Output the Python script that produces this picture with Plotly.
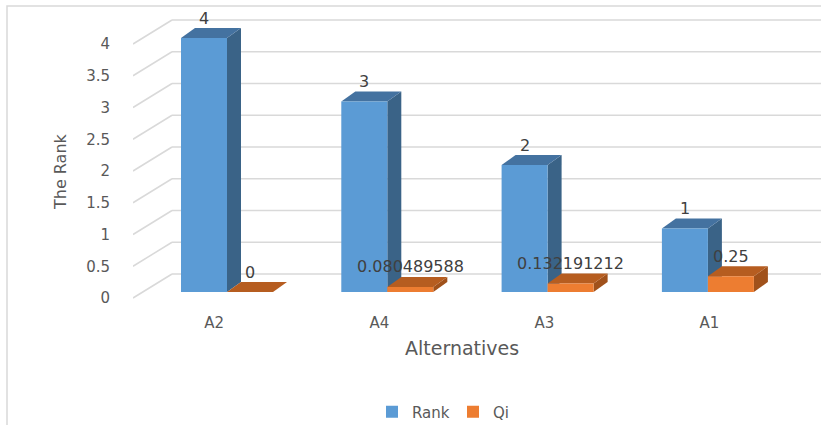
import plotly.graph_objects as go

# ---- data ----
categories = ["A2", "A4", "A3", "A1"]
rank_values = [4, 3, 2, 1]
qi_values = [0.0, 0.080489588, 0.132191212, 0.25]
y_ticks = [0, 0.5, 1, 1.5, 2, 2.5, 3, 3.5, 4]

# ---- geometry (figure pixels) ----
W, H = 821, 425
L, R, T, B = 133, 821, 10, 300
CENTER0 = 227      # pixel of first category centre
PX_U = 160.3       # pixels per category
PX_V = 63.5        # pixels per value unit
ZERO_PX = 298      # pixel row of value 0 on the front (label) plane
x_range = [-(CENTER0 - L) / PX_U, (R - CENTER0) / PX_U]
y_range = [(ZERO_PX - B) / PX_V, (ZERO_PX - T) / PX_V]


def du(px):
    return px / PX_U


def dv(px):
    return px / PX_V


def paper_x(px):
    return (px - L) / (R - L)


def paper_y(py):
    return (B - py) / (B - T)


BAR_W = du(46)
BASE = dv(6)
DEPTH_X, DEPTH_Y = du(14), dv(10)
WALL_X, WALL_Y = du(39), dv(24)

BLUE = dict(front="#5b9bd5", top="#4472a0", side="#3a6387")
ORANGE = dict(front="#ed7d31", top="#b65d20", side="#a0511b")
GRID = "#d9d9d9"
TXT = "#595959"
FONT = "DejaVu Sans"

xs = list(range(len(categories)))


def fmt(v):
    s = f"{v:.9f}".rstrip("0").rstrip(".")
    return s if s else "0"


fig = go.Figure()
fig.add_trace(go.Bar(name="Rank", x=xs, y=rank_values, base=BASE,
                     offset=-BAR_W, width=BAR_W,
                     marker=dict(color=BLUE["front"], line=dict(width=0))))
fig.add_trace(go.Bar(name="Qi", x=xs, y=qi_values, base=BASE,
                     offset=0, width=BAR_W,
                     marker=dict(color=ORANGE["front"], line=dict(width=0))))

shapes = []
# back wall gridlines with diagonal connectors
for v in y_ticks:
    x0 = x_range[0]
    shapes.append(dict(type="line", xref="x", yref="y", layer="below",
                       x0=x0, y0=v, x1=x0 + WALL_X, y1=v + WALL_Y,
                       line=dict(color=GRID, width=1.5)))
    shapes.append(dict(type="line", xref="x", yref="y", layer="below",
                       x0=x0 + WALL_X, y0=v + WALL_Y, x1=x_range[1], y1=v + WALL_Y,
                       line=dict(color=GRID, width=1.5)))


def box_faces(x_left, value, colors):
    x_right = x_left + BAR_W
    top = BASE + value
    side = (f"M{x_right},{BASE} L{x_right},{top} L{x_right + DEPTH_X},{top + DEPTH_Y} "
            f"L{x_right + DEPTH_X},{BASE + DEPTH_Y} Z")
    topf = (f"M{x_left},{top} L{x_right},{top} L{x_right + DEPTH_X},{top + DEPTH_Y} "
            f"L{x_left + DEPTH_X},{top + DEPTH_Y} Z")
    return [dict(type="path", xref="x", yref="y", layer="below", path=side,
                 fillcolor=colors["side"], line=dict(width=0)),
            dict(type="path", xref="x", yref="y", layer="below", path=topf,
                 fillcolor=colors["top"], line=dict(width=0))]


for x, rv, qv in zip(xs, rank_values, qi_values):
    shapes += box_faces(x - BAR_W, rv, BLUE)
    shapes += box_faces(x, qv, ORANGE)

# chart border (left and top edges visible)
shapes.append(dict(type="rect", xref="paper", yref="paper",
                   x0=paper_x(7), x1=1.2, y0=-0.6, y1=paper_y(6),
                   line=dict(color=GRID, width=1.5), fillcolor="rgba(0,0,0,0)"))

annotations = []
for x, rv, qv in zip(xs, rank_values, qi_values):
    annotations.append(dict(x=x - BAR_W / 2, y=BASE + rv, xref="x", yref="y",
                            text=fmt(rv), showarrow=False, yshift=20,
                            font=dict(family=FONT, size=16, color="#404040")))
    annotations.append(dict(x=x + BAR_W / 2, y=BASE + qv, xref="x", yref="y",
                            text=fmt(qv), showarrow=False, yshift=20,
                            font=dict(family=FONT, size=16, color="#404040")))

# axis titles
annotations.append(dict(text="The Rank", xref="paper", yref="paper",
                        x=paper_x(60), y=paper_y(172), textangle=-90,
                        showarrow=False, xanchor="center", yanchor="middle",
                        font=dict(family=FONT, size=16, color=TXT)))
annotations.append(dict(text="Alternatives", xref="paper", yref="paper",
                        x=paper_x(462), y=paper_y(348),
                        showarrow=False, xanchor="center", yanchor="middle",
                        font=dict(family=FONT, size=19, color=TXT)))

tick_pos = [i * 1.03 - 0.08 for i in xs]

fig.update_layout(
    width=W, height=H,
    margin=dict(l=L, r=W - R, t=T, b=H - B, pad=0, autoexpand=False),
    paper_bgcolor="white", plot_bgcolor="white",
    barmode="overlay",
    shapes=shapes, annotations=annotations,
    font=dict(family=FONT, color=TXT),
    xaxis=dict(range=x_range, showgrid=False, zeroline=False, showline=False,
               tickvals=tick_pos, ticktext=categories, ticks="",
               tickfont=dict(size=15, color=TXT), ticklabelstandoff=12),
    yaxis=dict(range=y_range, showgrid=False, zeroline=False, showline=False,
               tickvals=y_ticks, ticktext=[fmt(v) for v in y_ticks], ticks="",
               tickfont=dict(size=15, color=TXT), ticklabelstandoff=22),
    legend=dict(orientation="h", xref="container", yref="container",
                x=372 / W, xanchor="left", y=(H - 412) / H, yanchor="middle",
                font=dict(size=15, color=TXT), entrywidth=36, entrywidthmode="pixels"),
    showlegend=True,
)

fig.write_html("out.html",
               config={"displayModeBar": False},
               post_script="document.body.style.margin='0';"
                           "document.body.style.overflow='hidden';")
